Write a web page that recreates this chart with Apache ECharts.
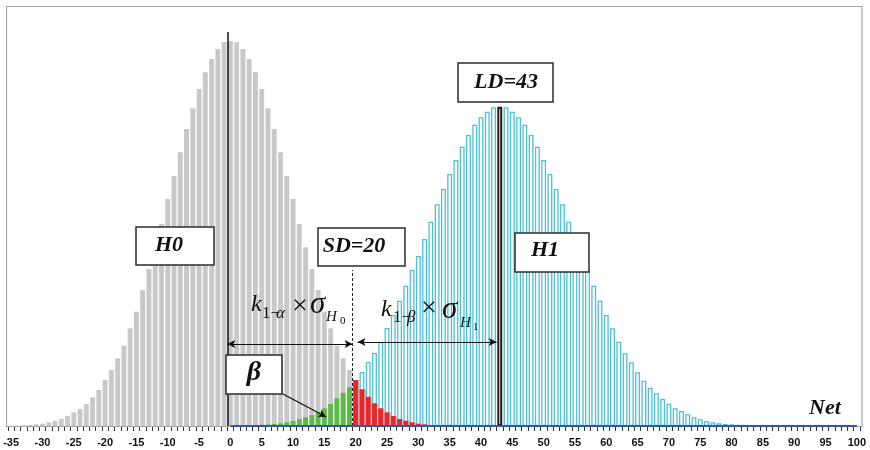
<!DOCTYPE html>
<html>
<head>
<meta charset="utf-8">
<script src="https://cdn.jsdelivr.net/npm/echarts@6/dist/echarts.min.js"></script>
<style>
  html, body { margin: 0; padding: 0; background: #fff; }
  #chart { width: 870px; height: 450px; }
</style>
</head>
<body>
<div id="chart"></div>
<script>
// Net values on the category axis
const netMin = -35;
const netMax = 100;
const categories = [];
for (let v = netMin; v <= netMax; v++) categories.push(String(v));

// H0 distribution (grey), Net -35 .. 19
const h0Start = -35;
const h0Values = [0.2, 0.3, 0.7, 1.0, 1.7, 2.3, 3.7, 5.3, 7.0, 10.0,
  13.7, 17.0, 22.0, 28.7, 36.0, 46.0, 56.0, 67.7, 80.3, 97.7,
  114.3, 136.0, 157.0, 178.7, 202.0, 227.0, 250.0, 273.7, 297.0, 317.7,
  337.0, 353.7, 367.0, 377.0, 384.0, 385.0, 383.7, 377.0, 367.0, 353.7,
  337.0, 317.7, 297.0, 273.7, 250.0, 227.0, 202.0, 178.7, 157.0, 136.0,
  114.3, 97.7, 80.3, 67.7, 56.0];

// H0 tail above the decision threshold (alpha, red), Net 20 .. 35
const alphaStart = 20;
const alphaValues = [46.0, 36.7, 29.3, 22.7, 17.7, 13.7, 10.0, 7.0, 5.3, 3.7,
  2.3, 1.7, 1.0, 0.7, 0.4, 0.2];

// H1 tail below the decision threshold (beta, green), Net 0 .. 19
const betaStart = 0;
const betaValues = [0.3, 0.4, 0.5, 0.7, 0.9, 1.2, 1.5, 2.0, 2.7, 3.7,
  5.0, 6.7, 8.7, 11.0, 13.7, 17.7, 22.0, 27.7, 33.3, 38.7];

// H1 distribution (cyan outline), Net 20 .. 87
const h1Start = 20;
const h1Values = [45.3, 54.0, 64.0, 73.0, 84.0, 98.0, 111.0, 125.3, 140.3, 156.0,
  170.0, 187.0, 204.3, 221.7, 237.0, 252.0, 266.0, 279.3, 291.0, 301.3,
  308.7, 314.3, 318.7, 319.3, 318.7, 314.3, 308.7, 301.3, 291.0, 279.3,
  266.0, 252.0, 237.0, 221.7, 204.3, 187.0, 170.0, 156.0, 140.3, 125.3,
  111.0, 97.7, 84.3, 72.7, 63.7, 53.7, 45.3, 38.3, 32.7, 27.0,
  22.3, 17.7, 15.0, 11.7, 8.7, 6.7, 5.0, 3.7, 2.7, 2.0,
  1.7, 1.3, 1.0, 0.7, 0.5, 0.4, 0.3, 0.2];

// Decision / detection limits
const h0Mean = 0;
const sdValue = 20;
const ldValue = 43;

// Spread a partial series over the full category range
function spread(start, values) {
  const out = new Array(categories.length).fill(null);
  values.forEach((v, i) => { out[start - netMin + i] = v; });
  return out;
}

const h0Data = spread(h0Start, h0Values);
const alphaData = spread(alphaStart, alphaValues);
const betaData = spread(betaStart, betaValues);
const h1Data = spread(h1Start, h1Values).map((v, i) => {
  if (Number(categories[i]) === ldValue) {
    return { value: v, itemStyle: { color: '#ffffff', borderColor: '#1a1a1a', borderWidth: 2 } };
  }
  return v;
});
const baseLine = categories.map(c => (Number(c) >= 0 ? 0 : null));

const serif = '"Liberation Serif", "Times New Roman", serif';
const barW = 4.9;

const chart = echarts.init(document.getElementById('chart'), null, { renderer: 'canvas' });

function txt(text, x, y, size, opts) {
  opts = opts || {};
  return {
    type: 'text', z: 120, x: x, y: y,
    style: {
      text: text,
      font: (opts.italic === false ? '' : 'italic ') + (opts.bold ? 'bold ' : '') + size + 'px ' + serif,
      fill: '#111',
      align: opts.align || 'left',
      verticalAlign: 'middle'
    }
  };
}
function box(x, y, w, h) {
  return {
    type: 'rect', z: 110,
    shape: { x: x, y: y, width: w, height: h },
    style: { fill: '#ffffff', stroke: '#2b2b2b', lineWidth: 1.5 }
  };
}

const option = {
  animation: false,
  grid: { left: 8, right: 10, top: 7, bottom: 24, containLabel: false },
  xAxis: [
    {
      type: 'category',
      data: categories,
      boundaryGap: true,
      axisLine: { lineStyle: { color: '#111', width: 1 } },
      axisTick: { show: true, interval: 0, length: 5, lineStyle: { color: '#333' } },
      axisLabel: {
        interval: 4, margin: 11,
        fontFamily: '"Liberation Sans", Arial, sans-serif',
        fontWeight: 'bold', fontSize: 11, color: '#111'
      },
      splitLine: { show: false }
    },
    {
      type: 'value', min: netMin, max: netMax + 1, show: false
    }
  ],
  yAxis: { type: 'value', min: 0, max: 419, show: false, splitLine: { show: false } },
  series: [
    {
      name: 'H0', type: 'bar', data: h0Data, barWidth: barW, barGap: '-100%',
      itemStyle: { color: '#c8c8ca' }
    },
    {
      name: 'H1', type: 'bar', data: h1Data, barWidth: barW, barGap: '-100%',
      itemStyle: { color: '#ffffff', borderColor: '#4cc0d8', borderWidth: 1.3 }
    },
    {
      name: 'beta', type: 'bar', data: betaData, barWidth: barW, barGap: '-100%',
      itemStyle: { color: '#5dba47' }
    },
    {
      name: 'alpha', type: 'bar', data: alphaData, barWidth: barW, barGap: '-100%',
      itemStyle: { color: '#e8262b', shadowColor: '#c6c6c6', shadowOffsetX: 1.6, shadowBlur: 0 }
    },
    {
      name: 'base', type: 'line', data: baseLine, symbol: 'none', z: 5,
      lineStyle: { color: '#3556b0', width: 2 }
    },
    {
      name: 'marks', type: 'line', xAxisIndex: 1, yAxisIndex: 0, data: [], z: 20,
      markLine: {
        silent: true, animation: false,
        label: { show: false },
        symbol: ['none', 'none'],
        data: [
          [
            { coord: [h0Mean, 0], lineStyle: { color: '#111', width: 1.5, type: 'solid' } },
            { coord: [h0Mean, 394] }
          ],
          [
            { coord: [sdValue, 0], lineStyle: { color: '#222', width: 1, type: [3, 2] } },
            { coord: [sdValue, 156] }
          ],
          [
            { coord: [h0Mean, 82], symbol: 'arrow', symbolSize: [6, 8], lineStyle: { color: '#111', width: 1.2, type: 'solid' } },
            { coord: [sdValue, 82], symbol: 'arrow', symbolSize: [6, 8] }
          ],
          [
            { coord: [sdValue + 0.8, 84], symbol: 'arrow', symbolSize: [6, 8], lineStyle: { color: '#111', width: 1.2, type: 'solid' } },
            { coord: [ldValue, 84], symbol: 'arrow', symbolSize: [6, 8] }
          ],
          [
            { coord: [8.9, 32], symbol: 'none', lineStyle: { color: '#111', width: 1.2, type: 'solid' } },
            { coord: [15.8, 9], symbol: 'arrow', symbolSize: [6, 8] }
          ]
        ]
      }
    }
  ],
  graphic: [
    // plot frame
    {
      type: 'rect', z: 1, silent: true,
      shape: { x: 6.5, y: 6.5, width: 855.5, height: 420 },
      style: { fill: 'none', stroke: '#a6a6a6', lineWidth: 1.2 }
    },
    box(458, 63, 95, 39), txt('LD=43', 506, 82, 22, { bold: true, align: 'center' }),
    box(318, 228, 87, 38), txt('SD=20', 354, 246, 22, { bold: true, align: 'center' }),
    box(136, 227, 78, 38), txt('H0', 169, 245, 22, { bold: true, align: 'center' }),
    box(515, 233, 74, 39), txt('H1', 545, 250, 22, { bold: true, align: 'center' }),
    box(226, 355, 56, 39), txt('β', 254, 373, 28, { bold: true, align: 'center' }),
    txt('Net', 825, 408, 22, { bold: true, align: 'center' }),

    // k(1-α) × σ(H0)
    txt('k', 251, 305, 24),
    txt('1−', 262, 314, 17, { italic: false }),
    txt('α', 276, 314, 17),
    txt('×', 300, 307, 28, { italic: false, align: 'center' }),
    txt('σ', 310, 305, 31),
    txt('H', 326, 317, 15),
    txt('0', 340, 321, 11, { italic: false }),

    // k(1-β) × σ(H1)
    txt('k', 381, 310, 24),
    txt('1−', 393, 318, 17, { italic: false }),
    txt('β', 407, 318, 17),
    txt('×', 429, 309, 28, { italic: false, align: 'center' }),
    txt('σ', 442, 310, 31),
    txt('H', 460, 323, 15),
    txt('1', 473, 327, 11, { italic: false })
  ]
};

chart.setOption(option);
</script>
</body>
</html>
